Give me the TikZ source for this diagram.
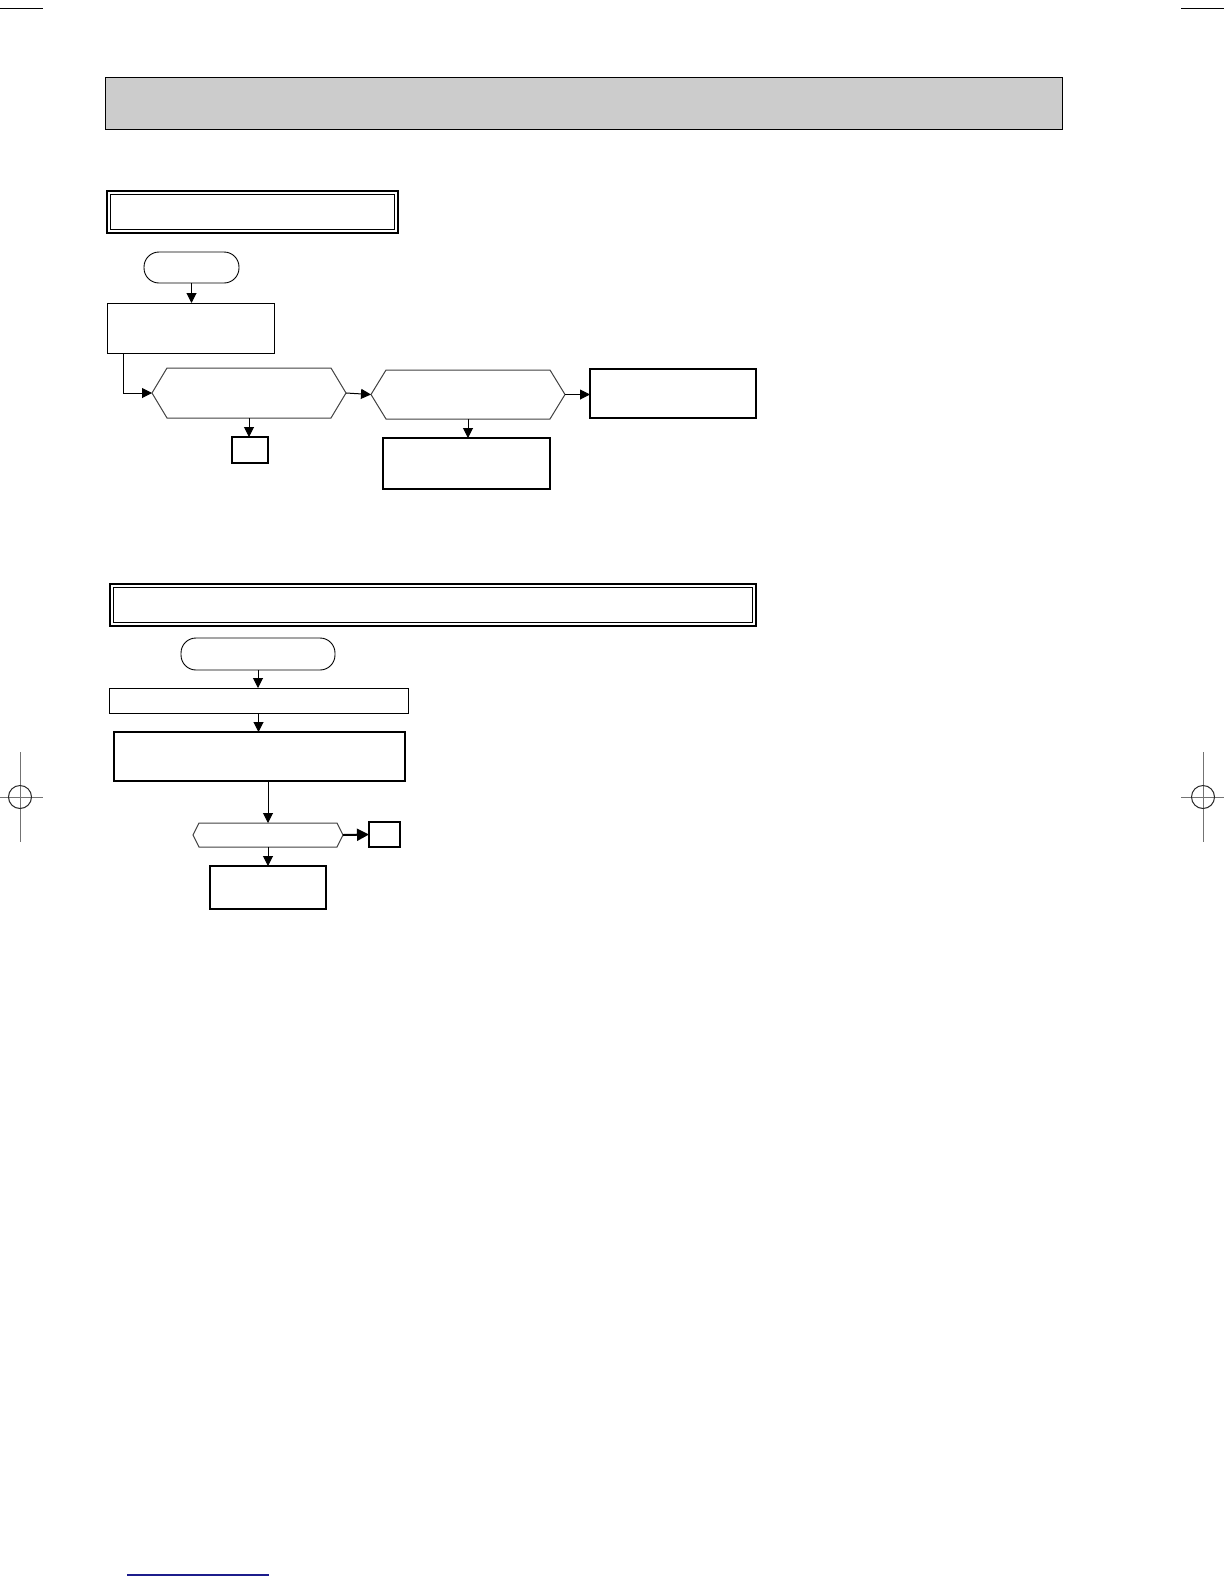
\documentclass[tikz,border=0pt]{standalone}
\usepackage{tikz}
\usetikzlibrary{arrows.meta,fit,calc,positioning}

\definecolor{banner}{RGB}{204,204,204}
\definecolor{linkblue}{RGB}{28,28,140}

\tikzset{
  box/.style={draw, line width=0.9bp, inner sep=0pt, outer sep=0pt},
  thinbox/.style={draw, line width=0.5bp, inner sep=0pt, outer sep=0pt},
  termbox/.style={draw, line width=0.45bp, rounded corners=7.5bp, inner sep=0pt, outer sep=0pt},
  titlebox/.style={draw, line width=0.9bp, inner sep=0pt, outer sep=0pt},
  hexbox/.style={inner sep=0pt, outer sep=0pt},
  arr/.style={-{Triangle[length=5bp,width=5bp]}, line width=0.5bp},
  thickarr/.style={-{Triangle[length=6bp,width=6bp]}, line width=1bp}
}

% hexagon outline round an (invisible) node
\newcommand{\hexframe}[2]{
  \draw[line width=0.5bp, black!75] (#1.west) -- ([xshift=#2]#1.north west) -- ([xshift=-#2]#1.north east)
    -- (#1.east) -- ([xshift=-#2]#1.south east) -- ([xshift=#2]#1.south west) -- cycle;
}

\begin{document}
\begin{tikzpicture}[x=0.5bp,y=-0.5bp]  % 1 unit = 1 pixel of the page

\useasboundingbox (0,0) rectangle (1224,1584);

% crop and registration marks
\foreach \xa/\xb in {0/43,1181/1224}
  \draw [line width=0.5bp] (\xa,8) -- (\xb,8);
\foreach \xc/\xa/\xb in {20/0/43,1203/1181/1224}
{
  \draw [line width=0.5bp,black!55] (\xc,752) -- (\xc,842);
  \draw [line width=0.5bp,black!55] (\xa,797) -- (\xb,797);
  \draw [line width=0.5bp,black!85] (\xc,797) circle [radius=11.5];
}

% page banner
\node [thinbox, fill=banner, fit={(105,77) (1062,129)}] (banner) {};

%%% first chart
\node [titlebox, fit={(107,191) (398,233)}] (title1) {};
\draw [line width=0.4bp] ([shift={(3.5,3.5)}]title1.north west) rectangle ([shift={(-3.5,-3.5)}]title1.south east);

\node [termbox, fit={(144,252) (239,283)}] (start1) {};
\node [thinbox, fit={(107,303) (274,353)}] (check1) {};
\node [hexbox, fit={(152,368) (346,418)}] (ask1) {};
\hexframe{ask1}{7.5bp}
\node [hexbox, fit={(371,370) (565,419)}] (ask2) {};
\hexframe{ask2}{7.5bp}
\node [box, fit={(232,437) (268,463)}] (jump1) {};
\node [box, fit={(590,369) (756,418)}] (result1) {};
\node [box, fit={(383,438) (550,489)}] (result2) {};

\draw [arr] (start1.south) -- (start1.south |- check1.north);
\draw [arr] ([xshift=8bp]check1.south west) |- (ask1.west);
\draw [arr] (ask1.south) -- (ask1.south |- jump1.north);
\draw [arr] (ask1.east) -- (ask2.west);
\draw [arr] (ask2.east) -- (ask2.east -| result1.west);
\draw [arr] (ask2.south) -- (ask2.south |- result2.north);

%%% second chart
\node [titlebox, fit={(110,584) (756,626)}] (title2) {};
\draw [line width=0.4bp] ([shift={(3.5,3.5)}]title2.north west) rectangle ([shift={(-3.5,-3.5)}]title2.south east);

\node [termbox, fit={(181,638) (335,670)}] (start2) {};
\node [thinbox, fit={(109,688) (408,713)}] (step1) {};
\node [box, line width=0.7bp, fit={(114,732) (405,781)}] (step2) {};
\node [hexbox, fit={(193,823) (343,847)}] (ask3) {};
\hexframe{ask3}{3bp}
\node [box, fit={(369,822) (400,847)}] (jump2) {};
\node [box, fit={(210,866) (326,909)}] (result3) {};

\draw [arr] (start2.south) -- (start2.south |- step1.north);
\draw [arr] (step1.south) -- (step1.south |- step2.north);
\draw [arr] (step2.south -| ask3.north) -- (ask3.north);
\draw [thickarr] (ask3.east) -- (jump2.west);
\draw [arr] (ask3.south) -- (ask3.south |- result3.north);

% link at the foot of the page
\draw [line width=0.75bp, linkblue] (127,1575) -- (269,1575);

\end{tikzpicture}
\end{document}
